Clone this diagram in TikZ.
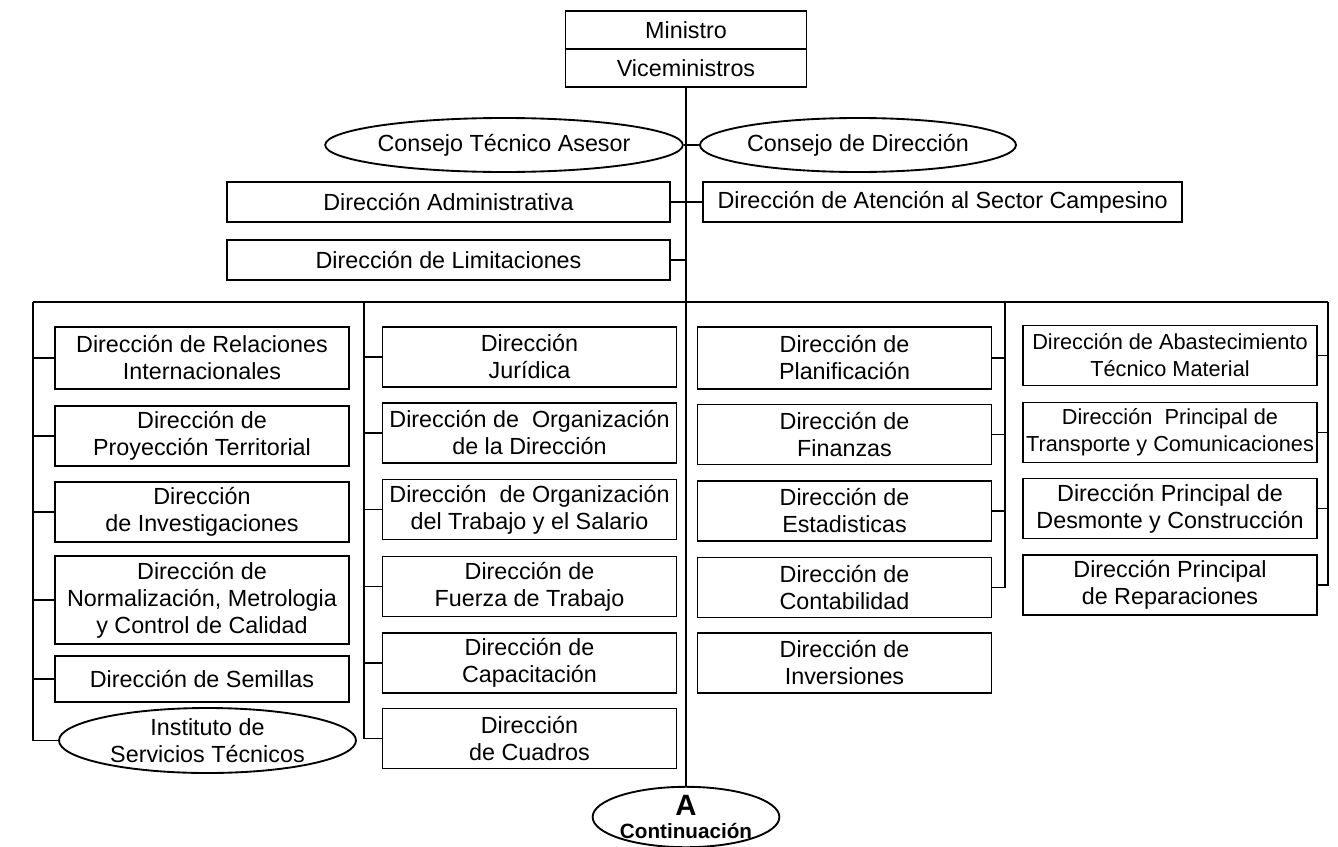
\documentclass[tikz,border=0pt]{standalone}
\usepackage{fontspec}
\setmainfont{Liberation Sans}
\usetikzlibrary{shapes.geometric}
\begin{document}
\begin{tikzpicture}[x=0.75pt,y=-0.75pt,
  every node/.style={font=\fontsize{17.5pt}{20.25pt}\selectfont, align=center, inner sep=0pt},
  unit/.style={draw, line width=1.4pt, rectangle},
  colbox/.style={unit, minimum width=220.5pt, minimum height=45pt},
  topbox/.style={unit, minimum width=180.75pt, minimum height=28.5pt},
  widebox/.style={unit, minimum width=332.25pt, minimum height=30pt},
  oval/.style={draw, line width=1.4pt, ellipse, inner sep=0pt},
  conn/.style={line width=1.3pt},
  narrow/.style={font=\fontsize{16.3pt}{20.25pt}\selectfont}]
\useasboundingbox (0,0) rectangle (1338,846);

% head of the ministry
\node[topbox] (min) at (686,30) {Ministro};
\node[topbox] (vice) at (686,68) {Viceministros};

% councils and staff offices
\node[oval, minimum width=256.5pt, minimum height=40.5pt] (cta) at (504,145) {Consejo Técnico Asesor};
\node[oval, minimum width=237pt, minimum height=40.5pt] (cd) at (858,145) {Consejo de Dirección};
\node[widebox] (adm) at (448.5,202) {Dirección Administrativa};
\node[unit, minimum height=30pt, inner xsep=11pt, anchor=west] (ate) at (702,202) {Dirección de Atención al Sector Campesino};
\node[widebox] (lim) at (448.5,260) {Dirección de Limitaciones};

% continuation mark
\node[oval, minimum width=126pt, minimum height=43pt] (cont) at (686,817)
  {{\fontsize{22pt}{22pt}\selectfont\bfseries A}\\[-3.5pt]{\fontsize{15.5pt}{15.5pt}\selectfont\bfseries Continuación}};

% first column
\node[colbox, minimum height=46.5pt] (rel) at (202,358) {Dirección de Relaciones\\Internacionales};
\node[colbox] (proy) at (202,436) {Dirección de\\Proyección Territorial};
\node[colbox] (inv) at (202,512) {Dirección\\de Investigaciones};
\node[colbox, minimum height=66pt] (norm) at (202,600) {Dirección de\\Normalización, Metrologia\\y Control de Calidad};
\node[colbox, minimum height=34.5pt] (sem) at (202,679) {Dirección de Semillas};
\node[oval, minimum width=222.75pt, minimum height=48.75pt] (inst) at (207.5,740.5) {Instituto de\\Servicios Técnicos};

% second column
\node[colbox] (jur) at (529.5,357) {Dirección\\Jurídica};
\node[colbox] (orgd) at (529.5,433) {Dirección de\ \ Organización\\de la Dirección};
\node[colbox] (orgt) at (529.5,509.5) {Dirección\ \ de Organización\\del Trabajo y el Salario};
\node[colbox] (fue) at (529.5,586.5) {Dirección de\\Fuerza de Trabajo};
\node[colbox] (cap) at (529.5,663) {Dirección de\\Capacitación};
\node[colbox] (cua) at (529.5,738.5) {Dirección\\de Cuadros};

% third column
\node[colbox, minimum height=46.5pt] (pla) at (844.5,358) {Dirección de\\Planificación};
\node[colbox] (fin) at (844.5,434.5) {Dirección de\\Finanzas};
\node[colbox] (est) at (844.5,511) {Dirección de\\Estadisticas};
\node[colbox] (con) at (844.5,587.5) {Dirección de\\Contabilidad};
\node[colbox] (invs) at (844.5,663) {Dirección de\\Inversiones};

% fourth column
\node[colbox, narrow] (aba) at (1170,355.5) {Dirección de Abastecimiento\\Técnico Material};
\node[colbox, narrow] (tra) at (1170,432.5) {Dirección\ \ Principal de\\Transporte y Comunicaciones};
\node[colbox] (des) at (1170,508.5) {Dirección Principal de\\Desmonte y Construcción};
\node[colbox] (rep) at (1170,585) {Dirección Principal\\de Reparaciones};

% bus and column trunks
\coordinate (b1) at (33,302);
\coordinate (b2) at (364,302);
\coordinate (b3) at (1005,302);
\coordinate (b4) at (1328,302);

\draw[conn] (vice.south) -- (cont.north);
\draw[conn] (cta.east) -- (cd.west);
\draw[conn] (adm.east) -- (ate.west);
\draw[conn] (lim.east) -- (lim.east -| vice.south);
\draw[conn] (b1) -- (b4);

\draw[conn] (b1) |- (inst.west);
\foreach \n in {rel,proy,inv,norm,sem} \draw[conn] (\n.west) -- (\n.west -| b1);
\draw[conn] (b2) |- (cua.west);
\foreach \n in {jur,orgd,orgt,fue,cap} \draw[conn] (\n.west) -- (\n.west -| b2);
\draw[conn] (b3) |- (con.east);
\foreach \n in {pla,fin,est} \draw[conn] (\n.east) -- (\n.east -| b3);
\draw[conn] (b4) |- (rep.east);
\foreach \n in {aba,tra,des} \draw[conn] (\n.east) -- (\n.east -| b4);
\end{tikzpicture}
\end{document}
